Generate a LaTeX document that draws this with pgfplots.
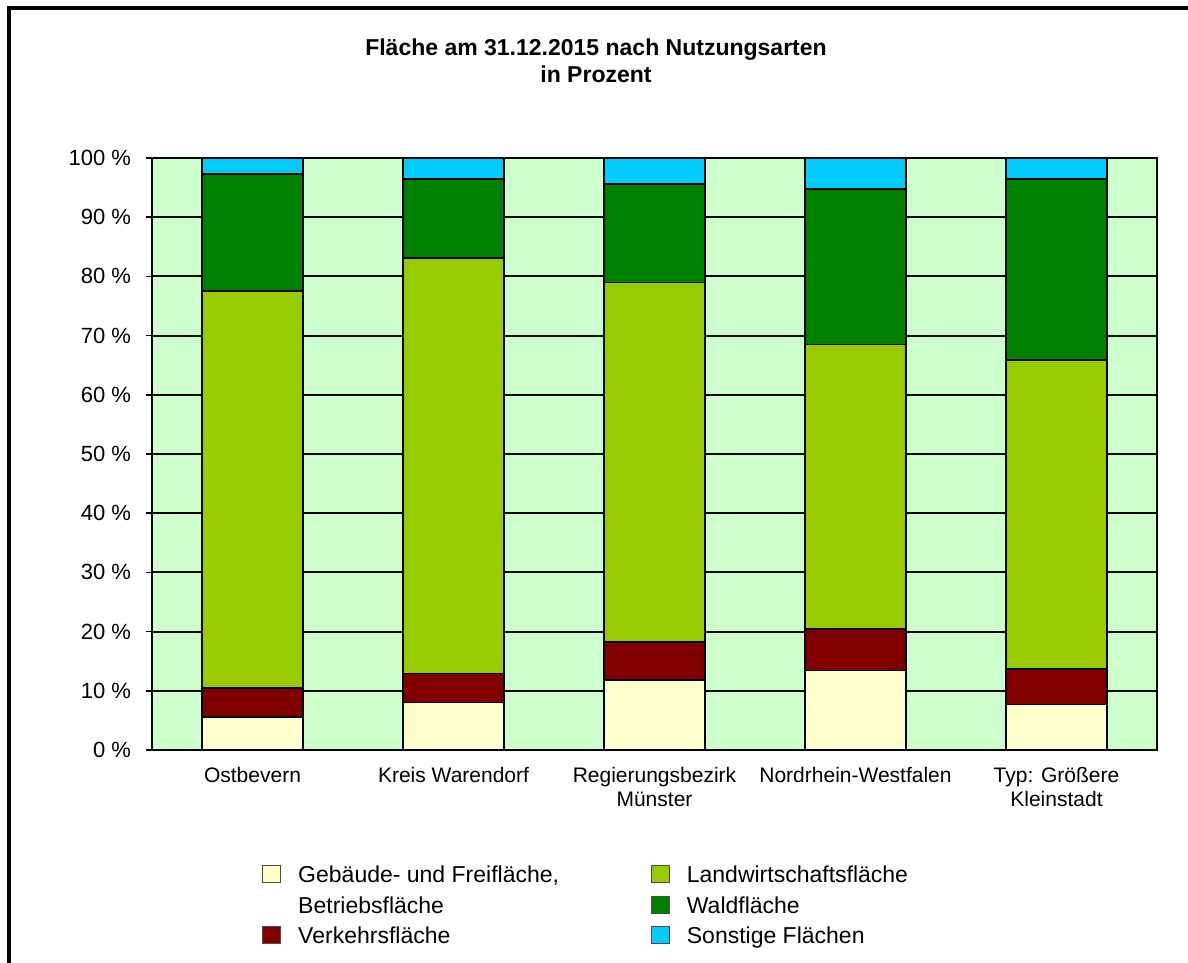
\documentclass[border=0pt]{standalone}
\usepackage{fontspec}
\setmainfont{Liberation Sans}
\usepackage{pgfplots}
\usepackage{pgfplotstable}
\pgfplotsset{compat=1.18}
\definecolor{cGeb}{RGB}{255,255,204}
\definecolor{cVerk}{RGB}{128,0,0}
\definecolor{cLand}{RGB}{153,204,0}
\definecolor{cWald}{RGB}{0,128,0}
\definecolor{cSonst}{RGB}{0,204,255}
\definecolor{cBg}{RGB}{204,255,204}
\newcommand\lbl{\fontsize{10.5}{12.3}\selectfont}

% shares in percent
\pgfplotstableread{
x   geb   verk  land  wald  sonst
0   5.6   4.9   67.0  19.8  2.7
1   8.0   4.9   70.2  13.4  3.5
2   11.8  6.4   60.8  16.6  4.4
3   13.4  7.0   48.1  26.3  5.2
4   7.7   6.0   52.2  30.6  3.5
}\flaeche

\begin{document}
\begin{tikzpicture}
% outer frame of the figure (1px = 0.5pt)
\useasboundingbox (-76pt,-106.5pt) rectangle (518pt,375pt);
\draw[line width=1.6pt] (-71.5pt,-110pt) -- (-71.5pt,371pt) -- (520pt,371pt);
\begin{axis}[at={(0pt,0pt)}, anchor=south west,
  scale only axis, width=502.5pt, height=296pt,
  ybar stacked, bar width=0.5,
  xmin=-0.5, xmax=4.5, ymin=0, ymax=100,
  xtick={0,1,2,3,4},
  xticklabels={Ostbevern, Kreis Warendorf, {Regierungsbezirk\\Münster}, Nordrhein-Westfalen, {Typ: Größere\\Kleinstadt}},
  xticklabel style={font=\lbl, align=center, yshift=-2pt},
  xtick style={draw=none},
  ytick={0,10,...,100},
  yticklabels={0 \%,10 \%,20 \%,30 \%,40 \%,50 \%,60 \%,70 \%,80 \%,90 \%,100 \%},
  yticklabel style={font=\fontsize{11}{13}\selectfont, xshift=-4pt},
  ytick pos=left, tick align=outside, major tick length=3pt,
  ytick style={black, line width=0.8pt},
  ymajorgrids, major grid style={black, line width=1pt},
  axis line style={black, line width=1.2pt},
  axis background/.style={fill=cBg},
  title={Fläche am 31.12.2015 nach Nutzungsarten\\in Prozent},
  title style={font=\fontsize{11.5}{13.5}\selectfont\bfseries, align=center,
    at={(rel axis cs:0.4418,1.1445)}, anchor=center},
  legend image code/.code={\draw[#1] (0pt,-3.5pt) rectangle (9pt,5pt);},
  legend columns=2, legend cell align=left,
  legend style={draw=none, fill=none, font=\fontsize{11.5}{13}\selectfont, inner sep=0pt,
    at={(rel axis cs:0.1095,-0.188)}, anchor=north west,
    row sep=1.5pt,
    /tikz/every odd column/.append style={column sep=6.5pt},
    /tikz/every even column/.append style={column sep=44pt}},
]
\addplot[fill=cGeb, draw=black, line width=0.8pt, forget plot] table[x=x, y=geb] {\flaeche};
\addplot[fill=cVerk, draw=black, line width=0.8pt, forget plot] table[x=x, y=verk] {\flaeche};
\addplot[fill=cLand, draw=black, line width=0.8pt, forget plot] table[x=x, y=land] {\flaeche};
\addplot[fill=cWald, draw=black, line width=0.8pt, forget plot] table[x=x, y=wald] {\flaeche};
\addplot[fill=cSonst, draw=black, line width=0.8pt, forget plot] table[x=x, y=sonst] {\flaeche};
\addlegendimage{fill=cGeb, draw=black!70}
\addlegendentry{Gebäude- und Freifläche,}
\addlegendimage{fill=cLand, draw=black!70}
\addlegendentry{Landwirtschaftsfläche}
\addlegendimage{draw opacity=0, fill opacity=0}
\addlegendentry{Betriebsfläche}
\addlegendimage{fill=cWald, draw=black!70}
\addlegendentry{Waldfläche}
\addlegendimage{fill=cVerk, draw=black!70}
\addlegendentry{Verkehrsfläche}
\addlegendimage{fill=cSonst, draw=black!70}
\addlegendentry{Sonstige Flächen}
\end{axis}
\end{tikzpicture}
\end{document}
